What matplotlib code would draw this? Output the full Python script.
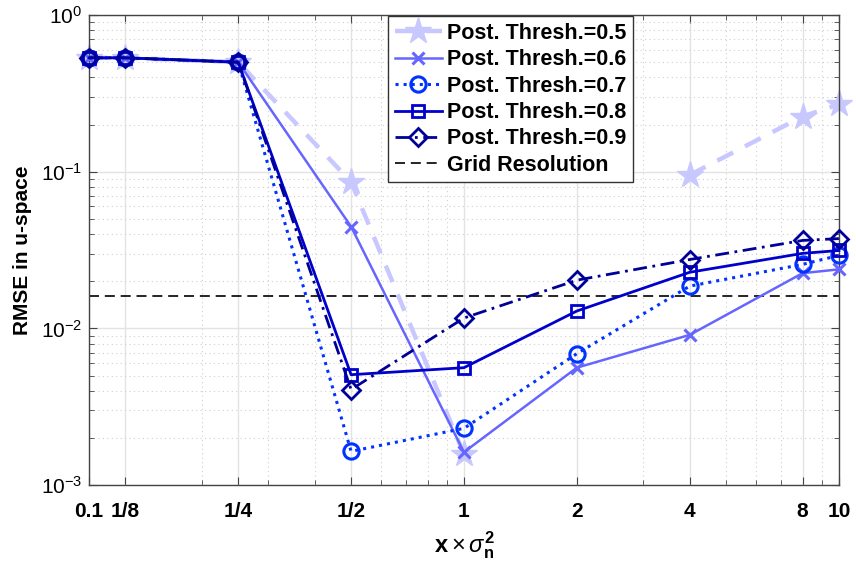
import numpy as np
import matplotlib
matplotlib.use('Agg')
import matplotlib.pyplot as plt
from matplotlib.ticker import LogLocator, NullFormatter

plt.rcParams['font.family'] = ['Liberation Sans', 'DejaVu Sans']
plt.rcParams['mathtext.fontset'] = 'custom'
plt.rcParams['mathtext.rm'] = 'Liberation Sans'
plt.rcParams['mathtext.bf'] = 'Liberation Sans:bold'
plt.rcParams['mathtext.it'] = 'Liberation Sans:italic'

# Abszissenwerte (Vielfache von sigma_n^2)
x_vals = [0.1, 1/8, 1/4, 1/2, 1, 2, 4, 8, 10]
x_labels = ['0.1', '1/8', '1/4', '1/2', '1', '2', '4', '8', '10']

# RMSE je Schwellwert
rmse_05 = [0.533, 0.533, 0.50, 0.086, 0.00157, np.nan, 0.0953, 0.225, 0.269]
rmse_06 = [0.533, 0.533, 0.50, 0.0446, 0.00162, 0.00561, 0.00908, 0.0225, 0.0238]
rmse_07 = [0.533, 0.533, 0.50, 0.00164, 0.0023, 0.00689, 0.0186, 0.0256, 0.0292]
rmse_08 = [0.533, 0.533, 0.50, 0.00506, 0.00561, 0.0129, 0.0228, 0.0301, 0.0314]
rmse_09 = [0.533, 0.533, 0.50, 0.00407, 0.01164, 0.0203, 0.0275, 0.0364, 0.0374]
grid_res = 0.016

labels = ['Post. Thresh.=0.5', 'Post. Thresh.=0.6', 'Post. Thresh.=0.7',
          'Post. Thresh.=0.8', 'Post. Thresh.=0.9', 'Grid Resolution']

fig = plt.figure(figsize=(8.56, 5.69), dpi=100)
ax = fig.add_axes([0.104, 0.1476, 0.876, 0.826])

ax.plot(x_vals, rmse_05, color='#c8c8ff', ls=(0, (4, 3)), lw=3.2, marker='*',
        ms=20, mec='#c8c8ff', mfc='#c8c8ff', label=labels[0], zorder=2, clip_on=False)
ax.plot(x_vals, rmse_06, color='#6666ff', ls='-', lw=1.8, marker='x',
        ms=9, mew=2.2, label=labels[1], zorder=3, clip_on=False)
ax.plot(x_vals, rmse_07, color='#0033ff', ls=':', lw=2.2, marker='o',
        ms=11, mew=2.2, mfc='none', label=labels[2], zorder=4, clip_on=False)
ax.plot(x_vals, rmse_08, color='#0000cc', ls='-', lw=2.0, marker='s',
        ms=9, mew=2.0, mfc='none', label=labels[3], zorder=5, clip_on=False)
ax.plot(x_vals, rmse_09, color='#000099', ls=(0, (5, 2, 1, 2)), lw=2.0, marker='D',
        ms=9, mew=2.0, mfc='none', label=labels[4], zorder=6, clip_on=False)
ax.axhline(grid_res, color='black', ls=(0, (6, 3.5)), lw=1.2, label=labels[5], zorder=1)

ax.set_xscale('log')
ax.set_yscale('log')
ax.set_xlim(0.1, 10)
ax.set_ylim(1e-3, 1)

ax.set_xticks(x_vals)
ax.set_xticklabels(x_labels, fontsize=15, fontweight='bold')
ax.xaxis.set_minor_locator(LogLocator(base=10, subs=np.arange(2, 10)))
ax.xaxis.set_minor_formatter(NullFormatter())
ax.yaxis.set_minor_locator(LogLocator(base=10, subs=np.arange(2, 10)))
ax.yaxis.set_minor_formatter(NullFormatter())
ax.tick_params(axis='y', which='major', labelsize=15, pad=5)
ax.tick_params(axis='x', which='major', pad=12)

ax.tick_params(which='both', direction='in', top=True, right=True, color='#444444')
ax.tick_params(which='major', length=6)
ax.tick_params(which='minor', length=3.5)

ax.grid(True, which='major', color='#e3e3e3', lw=1.0, ls='-')
ax.grid(True, which='minor', color='#cfcfcf', lw=0.8, ls=(0, (1, 3)))
ax.set_axisbelow(True)
for s in ax.spines.values():
    s.set_color('#444444')
    s.set_linewidth(1.0)

ax.set_xlabel(r'$\mathbf{x}\times\sigma_\mathbf{n}^\mathbf{2}$', fontsize=17, labelpad=6)
ax.set_ylabel('RMSE in u-space', fontsize=15, fontweight='bold', labelpad=6)

leg = ax.legend(loc='upper left', bbox_to_anchor=(0.399, 0.997), borderaxespad=0,
                fancybox=False, framealpha=1, edgecolor='#333333',
                prop={'size': 15.5, 'weight': 'bold'}, handlelength=2.2,
                labelspacing=0.25, handletextpad=0.25, borderpad=0.3)
leg.get_frame().set_linewidth(1.0)

fig.savefig('out.png', dpi=100)
